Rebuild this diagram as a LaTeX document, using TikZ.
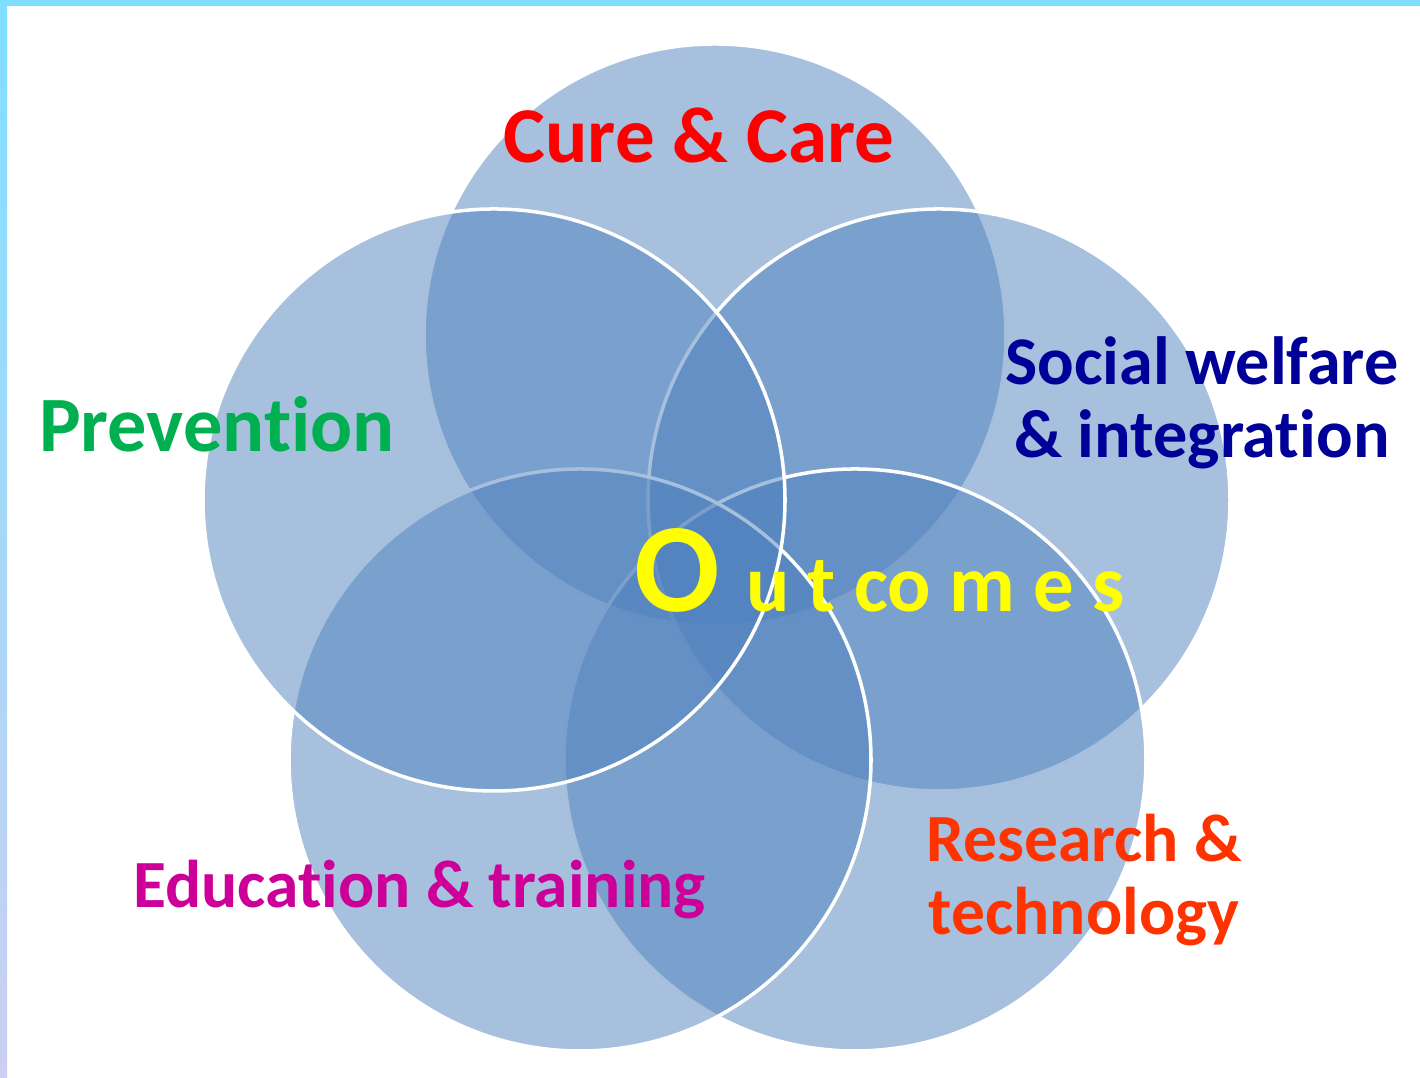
\documentclass[tikz,border=0pt]{standalone}
\usepackage{fontspec}
\setmainfont{Carlito}[Ligatures=NoCommon]
\definecolor{ringblue}{HTML}{4F81BD}
\definecolor{framecyan}{HTML}{80DFFF}
\definecolor{framelav}{HTML}{CCD0F2}
\definecolor{curered}{HTML}{FF0000}
\definecolor{prevgreen}{HTML}{00B050}
\definecolor{socialblue}{HTML}{000099}
\definecolor{edumagenta}{HTML}{CC0099}
\definecolor{resorange}{HTML}{FF3300}
\definecolor{outyellow}{HTML}{FFFF00}
\begin{document}
\begin{tikzpicture}
\tikzstyle{every node}=[inner sep=0pt,font=\bfseries]
\tikzstyle{ring}=[circle,draw=white,line width=1pt,fill=ringblue,fill opacity=0.5,minimum size=5.82cm]
\useasboundingbox (0,0) rectangle (14.2,10.78);
% frame
\fill[framecyan] (0,10.72) rectangle (14.2,10.78);
\shade[top color=framecyan,bottom color=framelav] (0,0) rectangle (0.07,10.78);
% rings, back to front
\node[ring](cure) at (7.15,7.43) {};
\node[ring](social) at (9.39,5.78) {};
\node[ring](research) at (8.55,3.18) {};
\node[ring](education) at (5.80,3.18) {};
\node[ring](prevention) at (4.94,5.78) {};
% labels
\node[anchor=base,text=curered,font=\bfseries\fontsize{22.5}{27}\selectfont](lcure) at (6.99,9.15) {Cure \& Care};
\node[anchor=base,text=prevgreen,font=\bfseries\fontsize{22.3}{26}\selectfont](lprev) at (2.17,6.26) {Prevention};
\node[anchor=base,text=socialblue,align=center,font=\bfseries\fontsize{19.4}{20.8}\selectfont](lsocial) at (12.02,6.20) {Social welfare\\\& integration};
\node[anchor=base,text=edumagenta,font=\bfseries\fontsize{19.2}{24}\selectfont](ledu) at (4.195,1.70) {Education \& training};
\node[anchor=base,text=resorange,align=center,font=\bfseries\fontsize{19.2}{20.8}\selectfont](lres) at (10.84,1.43) {Research \&\\technology};
\node[anchor=base west,text=outyellow](lout) at (6.34,4.66) {{\fontsize{36}{36}\selectfont O}\hspace{0.26cm}{\fontsize{23}{23}\selectfont u t co m e s}};
\end{tikzpicture}
\end{document}
